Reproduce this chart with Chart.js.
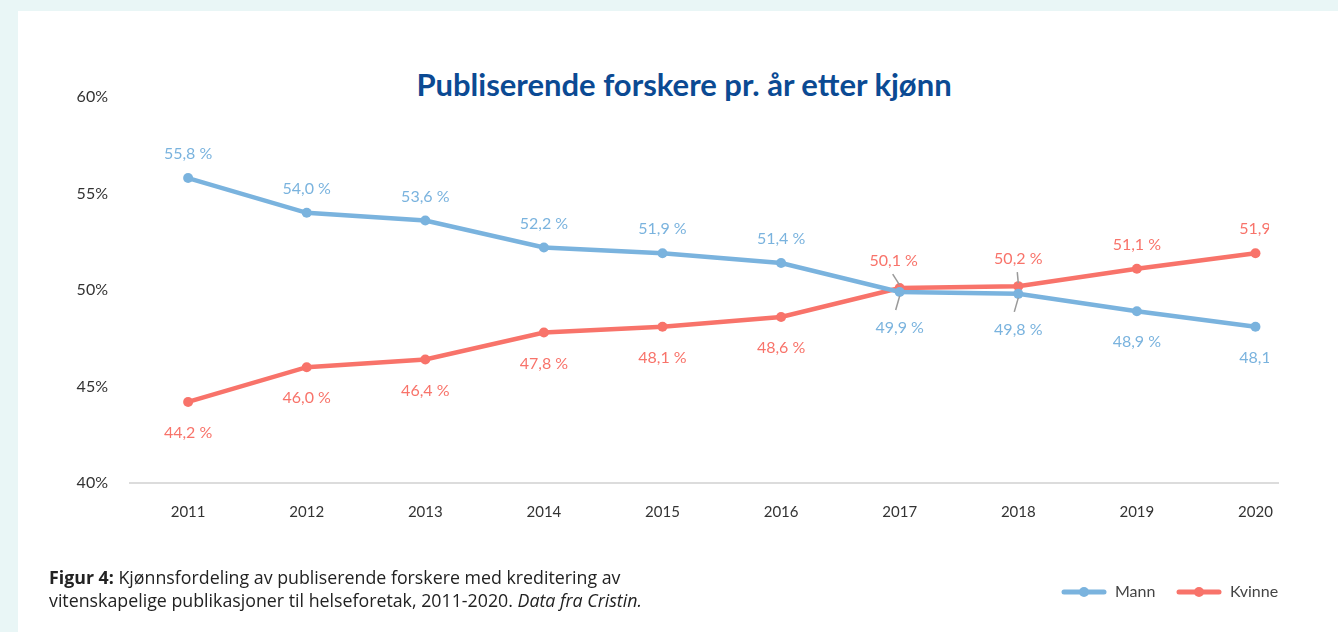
<!DOCTYPE html>
<html>
<head>
<meta charset="utf-8">
<script src="https://cdn.jsdelivr.net/npm/chart.js@4.4.1/dist/chart.umd.min.js"></script>
<style>
  html, body { margin: 0; padding: 0; background: #e9f6f6; }
  body { width: 1338px; height: 632px; position: relative; overflow: hidden; font-family: Lato, sans-serif; }
  .card { position: absolute; left: 18px; top: 11px; right: 0; bottom: 0; background: #fff; }
  .wrap { position: absolute; left: 0; top: 0; width: 1338px; height: 632px; }
  h1 { position: absolute; left: 0; width: 1368px; top: 65px; margin: 0; text-align: center;
       font: 700 31px Lato, sans-serif; color: #0b4a93; }
  .caption { position: absolute; left: 49px; top: 566px; font-family: 'Open Sans', sans-serif; font-size: 17.8px; line-height: 23px; color: #222; }
</style>
</head>
<body>
<div class="card"></div>
<h1>Publiserende forskere pr. år etter kjønn</h1>
<div class="wrap"><canvas id="chart"></canvas></div>
<div class="caption"><b>Figur 4:</b> Kjønnsfordeling av publiserende forskere med kreditering av<br>vitenskapelige publikasjoner til helseforetak, 2011-2020. <i>Data fra Cristin.</i></div>
<script>
const years = [2011, 2012, 2013, 2014, 2015, 2016, 2017, 2018, 2019, 2020];
const mann = [55.8, 54.0, 53.6, 52.2, 51.9, 51.4, 49.9, 49.8, 48.9, 48.1];
const kvinne = [44.2, 46.0, 46.4, 47.8, 48.1, 48.6, 50.1, 50.2, 51.1, 51.9];
const yTicks = [40, 45, 50, 55, 60];
const leaderYears = [2017, 2018];

const blue = '#7ab3de';
const red = '#f8736a';

const fmt = v => v.toFixed(1).replace('.', ',') + ' %';

// point labels + leader lines
const labelPlugin = {
  id: 'pointLabels',
  afterDatasetsDraw(chart) {
    const ctx = chart.ctx;
    const area = chart.chartArea;
    ctx.save();
    ctx.beginPath();
    ctx.rect(0, 0, area.right - 9, chart.height);
    ctx.clip();
    ctx.font = '16px Lato';
    ctx.textAlign = 'center';
    ctx.textBaseline = 'middle';
    chart.data.datasets.forEach((ds, di) => {
      const meta = chart.getDatasetMeta(di);
      const other = chart.data.datasets[1 - di].data;
      meta.data.forEach((pt, i) => {
        const v = ds.data[i].y;
        const above = v > other[i].y;
        const lead = leaderYears.includes(years[i]);
        let dy = above ? -24 : 31;
        if (lead) dy = above ? -27 : 36;
        let dx = i === years.length - 1 ? 8 : 0;
        if (lead && years[i] === 2017 && above) dx = -6;
        ctx.fillStyle = ds.borderColor;
        ctx.fillText(fmt(v), pt.x + dx, pt.y + dy);
        if (lead) {
          ctx.strokeStyle = '#9a9a9a';
          ctx.lineWidth = 1.5;
          ctx.beginPath();
          if (above) {
            ctx.moveTo(pt.x - (years[i] === 2017 ? 7 : 1), pt.y - 14);
            ctx.lineTo(pt.x, pt.y - 3);
          } else {
            ctx.moveTo(pt.x - 4, pt.y + 18);
            ctx.lineTo(pt.x, pt.y + 4);
          }
          ctx.stroke();
        }
      });
    });
    ctx.restore();
  }
};

// legend: line with dot, bottom right
const legendPlugin = {
  id: 'lineLegend',
  afterDraw(chart) {
    const ctx = chart.ctx;
    const y = 592;
    const items = [
      { text: 'Mann', color: blue, x: 1062 },
      { text: 'Kvinne', color: red, x: 1177 }
    ];
    ctx.save();
    ctx.font = '16px Lato';
    ctx.textBaseline = 'middle';
    items.forEach(it => {
      ctx.strokeStyle = it.color;
      ctx.lineWidth = 5;
      ctx.lineCap = 'round';
      ctx.beginPath();
      ctx.moveTo(it.x + 2, y);
      ctx.lineTo(it.x + 42, y);
      ctx.stroke();
      ctx.fillStyle = it.color;
      ctx.beginPath();
      ctx.arc(it.x + 22, y, 5, 0, Math.PI * 2);
      ctx.fill();
      ctx.fillStyle = '#444';
      ctx.fillText(it.text, it.x + 53, y);
    });
    ctx.restore();
  }
};

const toPts = arr => arr.map((v, i) => ({ x: years[i], y: v }));

new Chart(document.getElementById('chart'), {
  type: 'line',
  data: {
    datasets: [
      { label: 'Mann', data: toPts(mann), borderColor: blue, backgroundColor: blue,
        borderWidth: 4.5, pointRadius: 5, pointBorderWidth: 0, pointHoverRadius: 5, tension: 0 },
      { label: 'Kvinne', data: toPts(kvinne), borderColor: red, backgroundColor: red,
        borderWidth: 4.5, pointRadius: 5, pointBorderWidth: 0, pointHoverRadius: 5, tension: 0 }
    ]
  },
  options: {
    responsive: true,
    maintainAspectRatio: false,
    animation: false,
    layout: { padding: { left: 0, right: 60, top: 97, bottom: 99 } },
    plugins: { legend: { display: false }, tooltip: { enabled: false } },
    scales: {
      x: {
        type: 'linear',
        min: 2010.51,
        max: 2020.19,
        afterBuildTicks: s => { s.ticks = years.map(v => ({ value: v })); },
        ticks: { callback: v => String(v), color: '#333', font: { family: 'Lato', size: 15 }, padding: 12, maxRotation: 0 },
        grid: { display: false },
        border: { display: true, color: '#dcdcdc', width: 2 }
      },
      y: {
        min: 40,
        max: 60,
        afterBuildTicks: s => { s.ticks = yTicks.map(v => ({ value: v })); },
        afterFit: s => { s.width = 130; },
        ticks: { callback: v => v + '%', color: '#333', font: { family: 'Lato', size: 16 }, padding: 14 },
        grid: { display: false },
        border: { display: false }
      }
    }
  },
  plugins: [labelPlugin, legendPlugin]
});
</script>
</body>
</html>
